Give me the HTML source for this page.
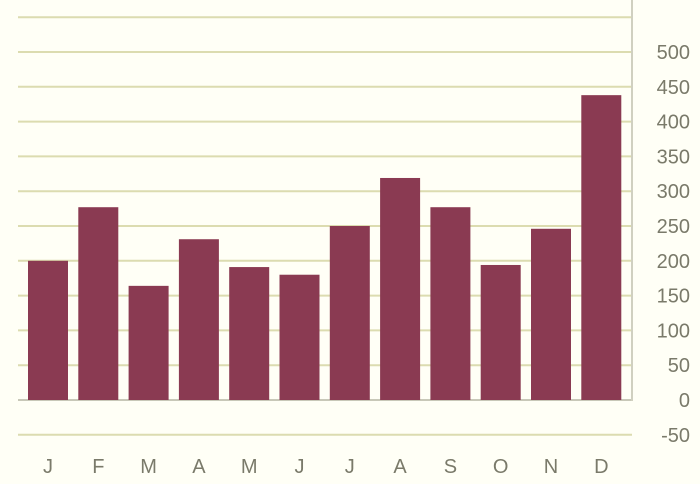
<!DOCTYPE html>
<html><head><meta charset="utf-8"><style>
body{margin:0;background:#fffff6;}
svg{display:block;font-family:"Liberation Sans",sans-serif;}
</style></head><body>
<svg width="700" height="484">
<g id="grid"></g>
<g id="bars"></g>
<g id="ylab"></g>
<g id="xlab"></g>
</svg>
<script>
const categories=["J","F","M","A","M","J","J","A","S","O","N","D"];
const values=[200,277,164,231,191,180,250,319,277,194,246,438];
const ticks=[-50,0,50,100,150,200,250,300,350,400,450,500,550];
const tickLabels=["-50","0","50","100","150","200","250","300","350","400","450","500",""];
const NS="http://www.w3.org/2000/svg";
const y=v=>400-v*0.696;
const x=i=>28+i*50.3;
function mk(t,a,p){const e=document.createElementNS(NS,t);for(const k in a)e.setAttribute(k,a[k]);p.appendChild(e);return e;}
const grid=document.getElementById('grid');
ticks.forEach((t,i)=>{
  const l=mk('line',{x1:18,x2:632,y1:y(t),y2:y(t),stroke:t===0?'#c8c8b8':'#dcdcb0','stroke-width':2},grid);
  
  
  if(tickLabels[i]){
    const tx=mk('text',{x:690,y:y(t)+7,'text-anchor':'end','font-size':20,fill:'#7a7a6a'},document.getElementById('ylab'));
    tx.textContent=tickLabels[i];
    
    
  }
});
const vl=mk('line',{x1:632,x2:632,y1:0,y2:401,stroke:'#d0d0c0','stroke-width':2},grid);


values.forEach((v,i)=>{
  const r=mk('rect',{x:x(i),y:y(v),width:40,height:y(0)-y(v),fill:'#8a3a52'},document.getElementById('bars'));
  
  
  const tx=mk('text',{x:x(i)+20,y:473,'text-anchor':'middle','font-size':20,fill:'#7a7a6a'},document.getElementById('xlab'));
  tx.textContent=categories[i];
  
  
});
</script>
</body></html>
